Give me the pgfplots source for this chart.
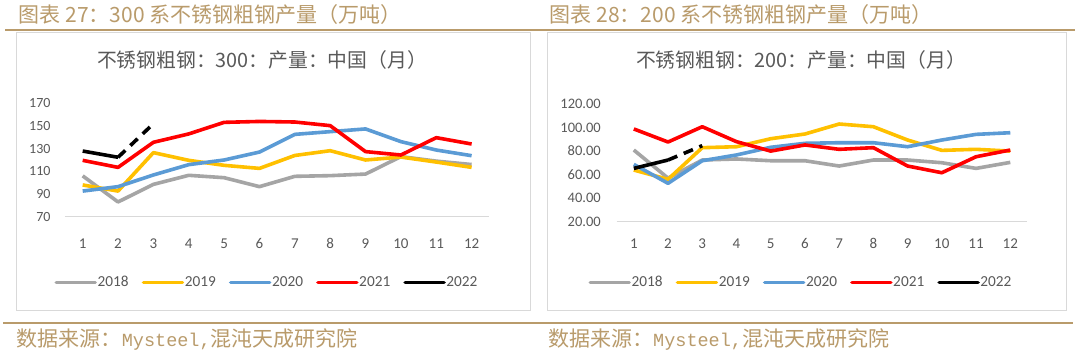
\documentclass[border=0pt]{standalone}
\usepackage{pgfplots}
\pgfplotsset{compat=1.18}
\usepackage{pgfplotstable}
\usepackage{fontspec}
\setmainfont{Carlito}
\newfontfamily\cjk{Noto Sans CJK SC}
\newfontfamily\mono{Liberation Mono}
\definecolor{gold}{HTML}{B99B6B}
\definecolor{txt}{HTML}{595959}
\definecolor{c18}{HTML}{A5A5A5}
\definecolor{c19}{HTML}{FFC000}
\definecolor{c20}{HTML}{5B9BD5}
\definecolor{c21}{HTML}{FF0000}
\definecolor{frm}{HTML}{D9D9D9}

% 300 series
\pgfplotstableread{
m  y18   y19   y20   y21
1  106   98    92.6  119.7
2  83    92.6  96.5  113.5
3  98.5  126.5 106.8 135.6
4  106.5 119.7 115.9 143
5  104.4 115.3 120   153.2
6  96.5  112.6 127   154
7  105.6 124   142.6 153.5
8  106.2 128.2 145   150.3
9  107.6 120   147.4 127.4
10 123   122.6 136.2 124.4
11 119   118.2 128.8 139.7
12 116   113.5 123.8 134.1
}\tabA
\pgfplotstableread{
m y22
1 127.9
2 122.4
3 152
}\tabAk

% 200 series
\pgfplotstableread{
m  y18   y19   y20   y21
1  80.9  63.9  68.7  98.8
2  57    56    52.6  87.7
3  72.4  82.9  71.8  100.7
4  73.3  83.7  76.7  88
5  71.8  90.5  83.2  80
6  71.8  94.5  86.6  85.2
7  67.3  103   87.1  81.5
8  72.4  100.7 87.1  82.9
9  72.4  89.4  83.7  67.3
10 70.1  80.6  89.4  61.6
11 65.3  81.5  94.2  75.2
12 70.4  80    95.6  80.9
}\tabB
\pgfplotstableread{
m y22
1 65.3
2 72.4
3 84.6
}\tabBk

\pgfplotsset{
  mychart/.style={
    scale only axis,
    xmin=0.5, xmax=12.5, xtick={1,...,12},
    axis x line*=bottom, axis y line*=left,
    x axis line style={draw=frm, line width=1pt, -},
    y axis line style={draw=none},
    major tick length=0pt,
    tick label style={text=txt},
    /pgf/number format/assume math mode=true,
    yticklabel style={font=\fontsize{14}{14}\selectfont, anchor=east, inner sep=0pt},
    xticklabel style={font=\fontsize{15}{15}\selectfont, anchor=base, inner sep=0pt},
    legend columns=5,
    legend style={draw=none, fill=none, font=\fontsize{15.3}{15.3}\selectfont, text=txt,
      inner sep=0pt, anchor=center,
      /tikz/every even column/.append style={column sep=12.5pt},
      nodes={inner sep=0.6pt}},
    legend image code/.code={\draw[#1, line width=3.5pt, line cap=round, solid] (1.5pt,0pt) -- (40.5pt,0pt);},
    every axis plot/.append style={line width=3.6pt, line join=round},
  }
}

\begin{document}
\begin{tikzpicture}
\useasboundingbox (0,0) rectangle (1080pt,354pt);
\fill[white] (0,0) rectangle (1080pt,354pt);
% frames
\draw[frm, line width=0.8pt] (16pt,322pt) rectangle (530pt,44pt);
\draw[frm, line width=0.8pt] (547pt,322pt) rectangle (1066pt,44pt);
% gold rules
\draw[gold, line width=1.5pt] (5pt,324pt) -- (1075pt,324pt);
\draw[gold, line width=1.8pt] (3pt,31pt) -- (1073pt,31pt);
% headers
\node[anchor=west, inner sep=0pt, text=gold, font=\cjk\fontsize{21}{21}\selectfont] at (18.5pt,339pt) {图表 27：300 系不锈钢粗钢产量（万吨）};
\node[anchor=west, inner sep=0pt, text=gold, font=\cjk\fontsize{21}{21}\selectfont] at (549.5pt,339pt) {图表 28：200 系不锈钢粗钢产量（万吨）};
% sources
\node[anchor=west, inner sep=0pt, text=gold, font=\fontsize{21}{21}\selectfont] at (16.7pt,14.7pt) {\cjk 数据来源：\mono\fontsize{18.5}{18.5}\selectfont Mysteel,\cjk\fontsize{21}{21}\selectfont 混沌天成研究院};
\node[anchor=west, inner sep=0pt, text=gold, font=\fontsize{21}{21}\selectfont] at (548pt,14.7pt) {\cjk 数据来源：\mono\fontsize{18.5}{18.5}\selectfont Mysteel,\cjk\fontsize{21}{21}\selectfont 混沌天成研究院};
% chart titles
\node[text=txt, font=\cjk\fontsize{19.8}{19.8}\selectfont] at (262pt,294pt) {不锈钢粗钢：300：产量：中国（月）};
\node[text=txt, font=\cjk\fontsize{19.8}{19.8}\selectfont] at (801pt,294pt) {不锈钢粗钢：200：产量：中国（月）};

% left chart
\begin{axis}[mychart,
  at={(65pt,137.3pt)}, anchor=south west,
  width=424.3pt, height=113.4pt,
  ymin=70, ymax=170, ytick={70,90,...,170},
  yticklabel style={xshift=-14.3pt},
  xticklabel style={yshift=-31.3pt},
  legend style={at={(0.4744,-0.5785)}},
]
\addplot[c18] table[x=m,y=y18] {\tabA};
\addlegendentry{2018}
\addplot[c19] table[x=m,y=y19] {\tabA};
\addlegendentry{2019}
\addplot[c20] table[x=m,y=y20] {\tabA};
\addlegendentry{2020}
\addplot[c21] table[x=m,y=y21] {\tabA};
\addlegendentry{2021}
\addplot[black] table[x=m,y=y22, skip coords between index={2}{3}] {\tabAk};
\addlegendentry{2022}
\addplot[black, dash pattern=on 10pt off 7pt, forget plot] table[x=m,y=y22, skip coords between index={0}{1}] {\tabAk};
\end{axis}

% right chart
\begin{axis}[mychart,
  at={(616.7pt,132.3pt)}, anchor=south west,
  width=410.7pt, height=117.7pt,
  ymin=20, ymax=120, ytick={20,40,...,120},
  yticklabel style={font=\fontsize{14.5}{14.5}\selectfont, xshift=-15.7pt, /pgf/number format/.cd, fixed, fixed zerofill, precision=2},
  xticklabel style={yshift=-26.3pt},
  legend style={at={(0.447,-0.5149)}},
]
\addplot[c18] table[x=m,y=y18] {\tabB};
\addlegendentry{2018}
\addplot[c19] table[x=m,y=y19] {\tabB};
\addlegendentry{2019}
\addplot[c20] table[x=m,y=y20] {\tabB};
\addlegendentry{2020}
\addplot[c21] table[x=m,y=y21] {\tabB};
\addlegendentry{2021}
\addplot[black] table[x=m,y=y22, skip coords between index={2}{3}] {\tabBk};
\addlegendentry{2022}
\addplot[black, dash pattern=on 10pt off 7pt, forget plot] table[x=m,y=y22, skip coords between index={0}{1}] {\tabBk};
\end{axis}
\end{tikzpicture}
\end{document}
